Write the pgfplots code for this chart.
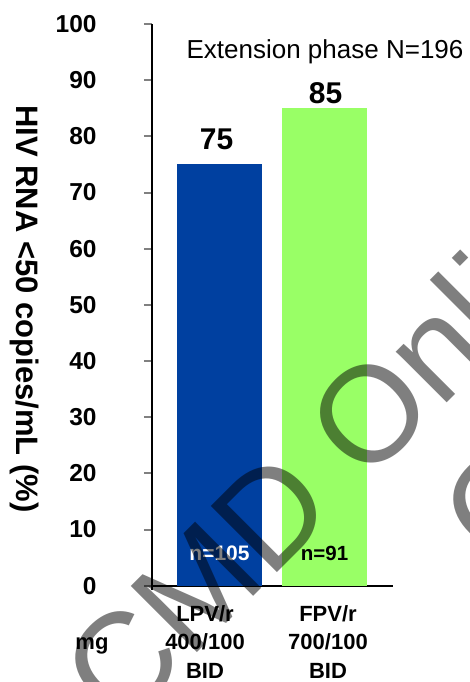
\documentclass[border=0pt]{standalone}
\usepackage{pgfplots}
\pgfplotsset{compat=1.18}
\usepackage{fontspec}
\setmainfont{Liberation Sans}
\definecolor{lpvblue}{RGB}{0,64,160}
\definecolor{fpvgreen}{RGB}{153,255,102}

\begin{document}
\begin{tikzpicture}
% page frame, with the plot area's lower left corner at the origin
\useasboundingbox (-76pt,-48.15pt) rectangle (159pt,292.85pt);
\begin{axis}[
  at={(0,0)}, anchor=south west,
  scale only axis,
  width=120.5pt, height=280.85pt,
  xmin=0.357, xmax=2.652,
  ymin=0, ymax=100,
  axis x line=bottom, axis y line=left,
  axis line style={-, line width=1pt},
  y axis line style={shorten <=-2.2pt},
  ytick={0,10,...,100},
  tick align=outside,
  major tick length=4pt,
  ytick style={line width=1pt},
  xtick={0.862,2.033},
  xticklabels={{LPV/r\\400/100\\BID},{FPV/r\\700/100\\BID}},
  xtick style={draw=none},
  xticklabel style={align=center, font=\fontsize{11}{14.25}\selectfont\bfseries,
    inner sep=0pt, anchor=north, yshift=-5.6pt},
  yticklabel style={font=\fontsize{12.25}{14}\selectfont\bfseries,
    anchor=east, inner sep=0pt, xshift=-23.5pt},
  /pgf/number format/assume math mode=true,
  ylabel={HIV RNA <50 copies/mL (\%)},
  ylabel style={at={(axis description cs:-0.527,0.4926)}, anchor=center,
    rotate=180, font=\fontsize{15.5}{18}\selectfont\bfseries},
  title={Extension phase N=196},
  every axis title shift=0pt,
  title style={at={(axis description cs:0.718,0.9377)}, anchor=base,
    inner sep=0pt, font=\fontsize{13}{15}\selectfont},
  ybar, bar width=42.5pt, bar shift=0pt,
  clip=false,
]
\addplot[fill=lpvblue, draw=none, nodes near coords,
  nodes near coords style={anchor=base, yshift=7.5pt, xshift=-1.5pt,
    font=\fontsize{15}{18}\selectfont\bfseries, text=black}]
  coordinates {(1,75)};
\addplot[fill=fpvgreen, draw=none, nodes near coords,
  nodes near coords style={anchor=base, yshift=2.2pt, xshift=0.5pt,
    font=\fontsize{15}{18}\selectfont\bfseries, text=black}]
  coordinates {(2,85)};

% group sizes inside the bars
\node[anchor=base, text=white, font=\fontsize{10.5}{12}\selectfont\bfseries]
  at (axis cs:1,4.4) {n=105};
\node[anchor=base, text=black, font=\fontsize{10.25}{12}\selectfont\bfseries]
  at (axis cs:2,4.4) {n=91};
\node[anchor=base, font=\fontsize{11}{13}\selectfont\bfseries]
  at (axis description cs:-0.249,-0.1127) {mg};
\end{axis}

% watermark
\begin{scope}
\clip (-76pt,-48.15pt) rectangle (159pt,292.85pt);
\node[anchor=base west, rotate=45, inner sep=0pt, text=black, text opacity=0.5,
  font=\fontsize{68}{80}\selectfont] at (-16.1pt,-72.35pt) {CMD Online};
\node[anchor=base west, rotate=45, inner sep=0pt, text=black, text opacity=0.5,
  font=\fontsize{68}{80}\selectfont] at (173pt,6.85pt) {CMD Online};
\end{scope}
\end{tikzpicture}
\end{document}
